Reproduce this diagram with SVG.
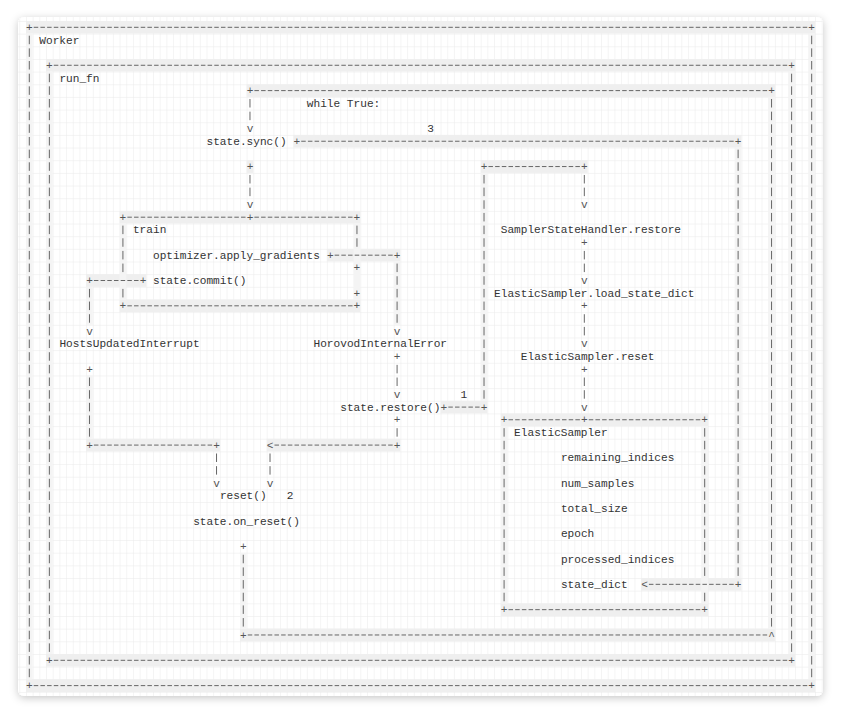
<svg xmlns="http://www.w3.org/2000/svg" width="842" height="714" viewBox="0 0 842 714">
<defs>
<filter id="shadow" x="-5%" y="-5%" width="110%" height="110%">
<feDropShadow dx="0" dy="2" stdDeviation="4" flood-color="#000" flood-opacity="0.22"/>
</filter>
<pattern id="grid" patternUnits="userSpaceOnUse" x="25.96" y="20.97" width="6.687" height="12.66">
<path d="M0 0.25H6.687M0.25 0V12.66" stroke="#e6e6e6" stroke-width="0.6" fill="none"/>
</pattern>
<clipPath id="cardclip"><rect x="18" y="17" width="805" height="679" rx="6"/></clipPath>
<style>
.t{font-family:"Liberation Mono","Courier New",monospace;font-size:11.145px;fill:#333}
.g{font-family:"Liberation Mono","Courier New",monospace;font-size:11.145px;fill:#555;text-anchor:middle}
.h{stroke:#666;stroke-width:1;stroke-dasharray:4.5 2.187;fill:none}
.v{stroke:#666;stroke-width:1;stroke-dasharray:8.5 4.16;fill:none}
.band{fill:#efefef}
.vband{fill:#f4f4f4}
</style>
</defs>
<rect width="842" height="714" fill="#ffffff"/>
<rect x="18" y="17" width="805" height="679" rx="6" fill="#ffffff" filter="url(#shadow)"/>
<g clip-path="url(#cardclip)">
<rect x="18" y="17" width="805" height="679" fill="url(#grid)"/>
<g id="bands">
<rect class="band" x="25.96" y="20.97" width="789.07" height="12.66"/>
<rect class="band" x="25.96" y="679.29" width="789.07" height="12.66"/>
<rect class="band" x="46.02" y="58.95" width="748.94" height="12.66"/>
<rect class="band" x="46.02" y="653.97" width="748.94" height="12.66"/>
<rect class="band" x="246.63" y="84.27" width="528.27" height="12.66"/>
<rect class="band" x="293.44" y="134.91" width="448.03" height="12.66"/>
<rect class="band" x="480.68" y="160.23" width="106.99" height="12.66"/>
<rect class="band" x="246.63" y="160.23" width="6.687" height="12.66"/>
<rect class="band" x="119.58" y="210.87" width="240.73" height="12.66"/>
<rect class="band" x="326.88" y="248.85" width="73.56" height="12.66"/>
<rect class="band" x="86.14" y="274.17" width="60.18" height="12.66"/>
<rect class="band" x="119.58" y="299.49" width="240.73" height="12.66"/>
<rect class="band" x="440.55" y="400.77" width="46.81" height="12.66"/>
<rect class="band" x="500.74" y="413.43" width="207.30" height="12.66"/>
<rect class="band" x="86.14" y="438.75" width="133.74" height="12.66"/>
<rect class="band" x="266.69" y="438.75" width="133.74" height="12.66"/>
<rect class="band" x="641.16" y="578.01" width="100.31" height="12.66"/>
<rect class="band" x="500.74" y="603.33" width="207.30" height="12.66"/>
<rect class="band" x="239.94" y="628.65" width="534.96" height="12.66"/>
<rect class="vband" x="25.96" y="33.63" width="6.687" height="645.66"/>
<rect class="vband" x="808.34" y="33.63" width="6.687" height="645.66"/>
<rect class="vband" x="46.02" y="71.61" width="6.687" height="582.36"/>
<rect class="vband" x="788.28" y="71.61" width="6.687" height="582.36"/>
<rect class="vband" x="768.22" y="96.93" width="6.687" height="531.72"/>
<rect class="vband" x="734.78" y="147.57" width="6.687" height="430.44"/>
<rect class="vband" x="480.68" y="172.89" width="6.687" height="227.88"/>
<rect class="vband" x="500.74" y="426.09" width="6.687" height="177.24"/>
<rect class="vband" x="701.35" y="426.09" width="6.687" height="177.24"/>
<rect class="vband" x="239.94" y="552.69" width="6.687" height="75.96"/>
<rect class="vband" x="86.14" y="375.45" width="6.687" height="63.3"/>
<rect class="vband" x="86.14" y="286.83" width="6.687" height="37.98"/>
<rect class="vband" x="393.75" y="261.51" width="6.687" height="63.3"/>
<rect class="vband" x="119.58" y="223.53" width="6.687" height="75.96"/>
<rect class="vband" x="353.62" y="223.53" width="6.687" height="75.96"/>
</g>
</g>

<g id="worker">
<line class="h" x1="33.74" y1="27.30" x2="807.24" y2="27.30"/>
<line class="h" x1="33.74" y1="685.62" x2="807.24" y2="685.62"/>
<line class="v" x1="29.30" y1="35.71" x2="29.30" y2="677.21"/>
<line class="v" x1="811.68" y1="35.71" x2="811.68" y2="677.21"/>
<text class="g" x="29.30" y="30.90">+</text>
<text class="g" x="811.68" y="30.90">+</text>
<text class="g" x="29.30" y="689.22">+</text>
<text class="g" x="811.68" y="689.22">+</text>
<text class="t" x="39.33" y="43.56">Worker</text>
</g>

<g id="run_fn">
<line class="h" x1="53.80" y1="65.28" x2="787.18" y2="65.28"/>
<line class="h" x1="53.80" y1="660.30" x2="787.18" y2="660.30"/>
<line class="v" x1="49.36" y1="73.69" x2="49.36" y2="651.89"/>
<line class="v" x1="791.62" y1="73.69" x2="791.62" y2="651.89"/>
<text class="g" x="49.36" y="68.88">+</text>
<text class="g" x="791.62" y="68.88">+</text>
<text class="g" x="49.36" y="663.90">+</text>
<text class="g" x="791.62" y="663.90">+</text>
<text class="t" x="59.40" y="81.54">run_fn</text>
</g>

<g id="state_sync"><text class="t" x="206.51" y="144.84">state.sync()</text></g>

<g id="train">
<line class="h" x1="127.36" y1="217.20" x2="245.53" y2="217.20"/>
<line class="h" x1="254.41" y1="217.20" x2="352.53" y2="217.20"/>
<line class="h" x1="127.36" y1="305.82" x2="352.53" y2="305.82"/>
<line class="v" x1="122.92" y1="225.61" x2="122.92" y2="272.09"/>
<line class="v" x1="122.92" y1="288.91" x2="122.92" y2="297.41"/>
<line class="v" x1="356.96" y1="225.61" x2="356.96" y2="246.77"/>
<text class="g" x="122.92" y="220.80">+</text>
<text class="g" x="249.97" y="220.80">+</text>
<text class="g" x="356.96" y="220.80">+</text>
<text class="g" x="356.96" y="271.44">+</text>
<text class="g" x="356.96" y="296.76">+</text>
<text class="g" x="122.92" y="309.42">+</text>
<text class="g" x="356.96" y="309.42">+</text>
<text class="t" x="132.95" y="233.46">train</text>
</g>
<g id="apply_gradients"><text class="t" x="153.01" y="258.78">optimizer.apply_gradients</text></g>
<g id="state_commit"><text class="t" x="153.01" y="284.10">state.commit()</text></g>

<g id="hosts_updated"><text class="t" x="59.40" y="347.40">HostsUpdatedInterrupt</text></g>
<g id="horovod_error"><text class="t" x="313.50" y="347.40">HorovodInternalError</text></g>
<g id="state_restore"><text class="t" x="340.25" y="410.70">state.restore()</text></g>
<g id="reset"><text class="t" x="219.88" y="499.32">reset()</text></g>
<g id="state_on_reset"><text class="t" x="193.14" y="524.64">state.on_reset()</text></g>

<g id="sampler_restore"><text class="t" x="500.74" y="233.46">SamplerStateHandler.restore</text></g>
<g id="load_state_dict"><text class="t" x="494.05" y="296.76">ElasticSampler.load_state_dict</text></g>
<g id="sampler_reset"><text class="t" x="520.80" y="360.06">ElasticSampler.reset</text></g>

<g id="elastic_sampler">
<line class="h" x1="508.51" y1="419.76" x2="579.88" y2="419.76"/>
<line class="h" x1="588.76" y1="419.76" x2="700.25" y2="419.76"/>
<line class="h" x1="508.51" y1="609.66" x2="700.25" y2="609.66"/>
<line class="v" x1="504.08" y1="428.17" x2="504.08" y2="601.25"/>
<line class="v" x1="704.69" y1="428.17" x2="704.69" y2="575.93"/>
<line class="v" x1="704.69" y1="592.75" x2="704.69" y2="601.25"/>
<text class="g" x="504.08" y="423.36">+</text>
<text class="g" x="584.32" y="423.36">+</text>
<text class="g" x="704.69" y="423.36">+</text>
<text class="g" x="504.08" y="613.26">+</text>
<text class="g" x="704.69" y="613.26">+</text>
<text class="t" x="514.11" y="436.02">ElasticSampler</text>
<text class="t" x="560.92" y="461.34">remaining_indices</text>
<text class="t" x="560.92" y="486.66">num_samples</text>
<text class="t" x="560.92" y="511.98">total_size</text>
<text class="t" x="560.92" y="537.30">epoch</text>
<text class="t" x="560.92" y="562.62">processed_indices</text>
<text class="t" x="560.92" y="587.94">state_dict</text>
</g>

<g id="connectors">
<!-- while True loop -->
<line class="h" x1="254.41" y1="90.60" x2="767.12" y2="90.60"/>
<text class="g" x="249.97" y="94.20">+</text>
<text class="g" x="771.56" y="94.20">+</text>
<line class="v" x1="249.97" y1="99.01" x2="249.97" y2="120.17"/>
<text class="g" x="249.97" y="132.18">v</text>
<line class="v" x1="771.56" y1="99.01" x2="771.56" y2="626.57"/>
<text class="t" x="306.81" y="106.86">while True:</text>
<text class="t" x="427.18" y="132.18">3</text>
<line class="h" x1="247.72" y1="634.98" x2="767.12" y2="634.98"/>
<text class="g" x="243.28" y="638.58">+</text>
<text class="g" x="771.56" y="638.58">^</text>
<text class="g" x="243.28" y="549.96">+</text>
<line class="v" x1="243.28" y1="554.77" x2="243.28" y2="626.57"/>
<!-- sync to state_dict -->
<line class="h" x1="301.22" y1="141.24" x2="733.69" y2="141.24"/>
<text class="g" x="296.78" y="144.84">+</text>
<text class="g" x="738.12" y="144.84">+</text>
<line class="v" x1="738.12" y1="149.65" x2="738.12" y2="575.93"/>
<text class="g" x="738.12" y="587.94">+</text>
<line class="h" x1="648.94" y1="584.34" x2="733.69" y2="584.34"/>
<text class="g" x="644.50" y="587.94">&lt;</text>
<!-- sync to train -->
<text class="g" x="249.97" y="170.16">+</text>
<line class="v" x1="249.97" y1="174.97" x2="249.97" y2="196.13"/>
<text class="g" x="249.97" y="208.14">v</text>
<!-- apply_gradients to HorovodInternalError -->
<line class="h" x1="334.65" y1="255.18" x2="392.65" y2="255.18"/>
<text class="g" x="330.22" y="258.78">+</text>
<text class="g" x="397.09" y="258.78">+</text>
<line class="v" x1="397.09" y1="263.59" x2="397.09" y2="322.73"/>
<text class="g" x="397.09" y="334.74">v</text>
<!-- commit to HostsUpdatedInterrupt -->
<line class="h" x1="93.92" y1="280.50" x2="138.54" y2="280.50"/>
<text class="g" x="89.48" y="284.10">+</text>
<text class="g" x="142.98" y="284.10">+</text>
<line class="v" x1="89.48" y1="288.91" x2="89.48" y2="322.73"/>
<text class="g" x="89.48" y="334.74">v</text>
<!-- HorovodInternalError to state.restore -->
<text class="g" x="397.09" y="360.06">+</text>
<line class="v" x1="397.09" y1="364.87" x2="397.09" y2="386.03"/>
<text class="g" x="397.09" y="398.04">v</text>
<text class="t" x="460.62" y="398.04">1</text>
<!-- state.restore to sampler chain -->
<line class="h" x1="448.33" y1="407.10" x2="479.58" y2="407.10"/>
<text class="g" x="443.89" y="410.70">+</text>
<text class="g" x="484.02" y="410.70">+</text>
<line class="v" x1="484.02" y1="174.97" x2="484.02" y2="398.69"/>
<line class="h" x1="488.45" y1="166.56" x2="579.88" y2="166.56"/>
<text class="g" x="484.02" y="170.16">+</text>
<text class="g" x="584.32" y="170.16">+</text>
<line class="v" x1="584.32" y1="174.97" x2="584.32" y2="196.13"/>
<text class="g" x="584.32" y="208.14">v</text>
<text class="g" x="584.32" y="246.12">+</text>
<line class="v" x1="584.32" y1="250.93" x2="584.32" y2="272.09"/>
<text class="g" x="584.32" y="284.10">v</text>
<text class="g" x="584.32" y="309.42">+</text>
<line class="v" x1="584.32" y1="314.23" x2="584.32" y2="335.39"/>
<text class="g" x="584.32" y="347.40">v</text>
<text class="g" x="584.32" y="372.72">+</text>
<line class="v" x1="584.32" y1="377.53" x2="584.32" y2="398.69"/>
<text class="g" x="584.32" y="410.70">v</text>
<!-- state.restore to reset -->
<text class="g" x="397.09" y="423.36">+</text>
<line class="v" x1="397.09" y1="428.17" x2="397.09" y2="436.67"/>
<text class="g" x="397.09" y="448.68">+</text>
<line class="h" x1="274.47" y1="445.08" x2="392.65" y2="445.08"/>
<text class="g" x="270.03" y="448.68">&lt;</text>
<line class="v" x1="270.03" y1="453.49" x2="270.03" y2="474.65"/>
<text class="g" x="270.03" y="486.66">v</text>
<!-- HostsUpdatedInterrupt to reset -->
<text class="g" x="89.48" y="372.72">+</text>
<line class="v" x1="89.48" y1="377.53" x2="89.48" y2="436.67"/>
<text class="g" x="89.48" y="448.68">+</text>
<line class="h" x1="93.92" y1="445.08" x2="212.10" y2="445.08"/>
<text class="g" x="216.54" y="448.68">+</text>
<line class="v" x1="216.54" y1="453.49" x2="216.54" y2="474.65"/>
<text class="g" x="216.54" y="486.66">v</text>
<text class="t" x="286.75" y="499.32">2</text>
</g>
</svg>
